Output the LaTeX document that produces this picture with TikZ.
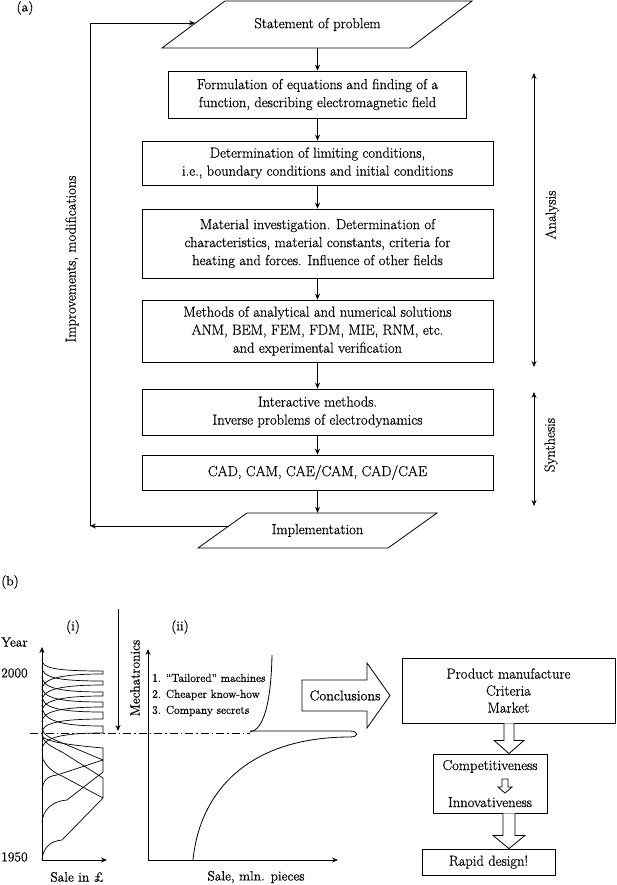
\documentclass[tikz,border=0pt]{standalone}
\usepackage{fontspec}
\setmainfont{Latin Modern Roman}[FakeBold=0.6]
\usetikzlibrary{arrows.meta,calc}
\newcommand\fntA{\fontsize{14.5}{18}\selectfont}
\newcommand\fntB{\fontsize{11.5}{16}\selectfont}
\newcommand\fntC{\fontsize{13.5}{16}\selectfont}
\newcommand\fntD{\fontsize{14.5}{17}\selectfont}
\tikzset{
  box/.style={draw, line width=0.8pt, align=center, inner sep=0pt, font=\fntA},
  lbl/.style={inner sep=0pt, font=\fntA},
  lblb/.style={inner sep=0pt, font=\fntC},
  arr/.style={-{Stealth[length=6pt,width=5pt]}, line width=0.8pt},
  darr/.style={{Stealth[length=6pt,width=5pt]}-{Stealth[length=6pt,width=5pt]}, line width=0.8pt},
  ln/.style={line width=0.8pt},
  cyc/.style={line width=0.7pt},
  hol/.style={draw, line width=0.8pt, fill=white},
}
\begin{document}
\begin{tikzpicture}[x=1pt,y=-1pt]
\useasboundingbox (0,0) rectangle (617,885);
% ---------------- (a) ----------------
\node[lblb] (la) at (25,8) {(a)};
\draw[ln] (225,1) -- (472,1) -- (410,48) -- (162,48) -- cycle;
\node[lbl, minimum height=47pt] (st) at (317.5,24.5) {Statement of problem};
\node[box, minimum width=298pt, minimum height=47pt] (b1) at (317.5,94.5)
  {Formulation of equations and finding of a\\ function, describing electromagnetic field};
\node[box, minimum width=351pt, minimum height=44pt] (b2) at (317.5,163)
  {Determination of limiting conditions,\\ i.e., boundary conditions and initial conditions};
\node[box, minimum width=351pt, minimum height=69pt] (b3) at (317.5,243.5)
  {Material investigation. Determination of\\ characteristics, material constants, criteria for\\ heating and forces. Influence of other fields};
\node[box, minimum width=351pt, minimum height=62pt] (b4) at (317.5,331)
  {Methods of analytical and numerical solutions\\ ANM, BEM, FEM, FDM, MIE, RNM, etc.\\ and experimental verification};
\node[box, minimum width=351pt, minimum height=46pt] (b5) at (317.5,412)
  {Interactive methods.\\ Inverse problems of electrodynamics};
\node[box, minimum width=351pt, minimum height=35pt] (b6) at (317.5,472.5)
  {CAD, CAM, CAE/CAM, CAD/CAE};
\draw[ln] (247,513) -- (437,513) -- (388,548) -- (198,548) -- cycle;
\node[lbl, minimum height=35pt] (im) at (317.5,530.5) {Implementation};
\draw[arr] (st.south) -- (b1.north);
\draw[arr] (b1.south) -- (b2.north);
\draw[arr] (b2.south) -- (b3.north);
\draw[arr] (b3.south) -- (b4.north);
\draw[arr] (b4.south) -- (b5.north);
\draw[arr] (b5.south) -- (b6.north);
\draw[arr] (b6.south) -- (im.north);
% feedback loop
\coordinate (imL) at (229,526);
\coordinate (fbB) at (90,526);
\coordinate (fbT) at (90,23);
\coordinate (stL) at (195,23);
\draw[arr] (imL) -- (fbB);
\draw[arr] (fbB) -- (fbT) -- (stL);
\node[lbl, rotate=90] (imp) at (72,259) {Improvements, modifications};
% analysis / synthesis
\coordinate (anT) at (534,73);
\coordinate (anB) at (534,367);
\coordinate (syT) at (534,392);
\coordinate (syB) at (534,506);
\draw[darr] (anT) -- (anB);
\draw[darr] (syT) -- (syB);
\node[lbl, rotate=90] (an) at (552,215) {Analysis};
\node[lbl, rotate=90] (sy) at (551,445) {Synthesis};
% ---------------- (b) ----------------
\node[lblb] (lb) at (10,582) {(b)};
\node[lblb] (li) at (73,627) {(i)};
\node[lblb] (lii) at (180,627) {(ii)};
\node[lblb, anchor=west] (yr) at (1,642) {Year};
\node[lblb, anchor=west] (y2) at (1,673) {2000};
\node[lblb, anchor=west] (y1) at (1,857) {1950};
% axes (i)
\coordinate (o1) at (42,860);
\coordinate (o1y) at (42,647);
\coordinate (o1x) at (107,860);
\draw[arr] (o1) -- (o1y);
\draw[arr] (o1) -- (o1x);
\node[lblb] (s1) at (77,877) {Sale in £};
% mechatronics arrow
\coordinate (mT) at (118,609);
\coordinate (mB) at (118,731);
\draw[arr] (mT) -- (mB);
\node[lblb, rotate=90] (mech) at (135,678) {Mechatronics};
% dash-dot line
\coordinate (ddL) at (30,733);
\coordinate (ddR) at (250,733);
\draw[line width=0.7pt, dash pattern=on 8pt off 3pt on 1.5pt off 3pt] (ddL) -- (ddR);
% life cycles (i) - upper
\draw[cyc] (42,660) .. controls (42,668) and (55,671) .. (103,671) -- (103,674) .. controls (55,674) and (42,680) .. (42,690);
\draw[cyc] (42,667) .. controls (42,677) and (55,681) .. (103,681) -- (103,685) .. controls (55,685) and (42,691) .. (42,701);
\draw[cyc] (42,676) .. controls (42,687) and (55,692) .. (103,692) -- (103,696) .. controls (55,696) and (42,702) .. (42,712);
\draw[cyc] (42,686) .. controls (42,697) and (55,702) .. (103,702) -- (103,707) .. controls (55,707) and (42,713) .. (42,722);
\draw[cyc] (42,695) .. controls (42,707) and (55,712) .. (103,712) -- (103,719) .. controls (55,719) and (42,724) .. (42,733);
\draw[cyc] (42,705) .. controls (42,719) and (55,726) .. (103,726) -- (103,733) .. controls (60,733) and (42,738) .. (42,750);
% life cycles (i) - lower
\draw[cyc] (42,860) .. controls (43,848) and (50,841) .. (62,840) -- (103,798) -- (103,778) -- (62,752) .. controls (50,746) and (43,742) .. (42,735);
\draw[cyc] (42,822) .. controls (43,810) and (52,801) .. (67,800) -- (103,772) -- (103,760) -- (60,742) .. controls (50,738) and (43,735) .. (42,728);
\draw[cyc] (42,790) .. controls (43,780) and (48,776) .. (57,775) -- (103,760) -- (103,748) .. controls (70,745) and (46,742) .. (42,736);
\draw[cyc] (42,757) .. controls (45,765) and (52,772) .. (62,776) -- (103,798);
% axes (ii)
\coordinate (o2) at (148,860);
\coordinate (o2y) at (148,649);
\coordinate (o2x) at (338,860);
\draw[arr] (o2) -- (o2y);
\draw[arr] (o2) -- (o2x);
\node[lblb] (s2) at (256,877) {Sale, mln. pieces};
\node[inner sep=0pt, font=\fntB, align=left, anchor=west] (items) at (152,695)
  {1. “Tailored” machines\\ 2. Cheaper know-how\\ 3. Company secrets};
\draw[cyc, line width=0.8pt] (193,860) .. controls (200,790) and (250,737) .. (350,737)
  .. controls (359,737) and (359,731) .. (350,731) -- (250,731);
\draw[cyc, line width=0.8pt] (250,732) .. controls (263,730) and (271,705) .. (272,655);
% conclusions arrow
\draw[hol] (302,680) -- (367,680) -- (367,663) -- (390,695.5) -- (367,728) -- (367,711) -- (302,711) -- cycle;
\node[inner sep=0pt, font=\fontsize{14}{16}\selectfont] (concl) at (345,695.5) {Conclusions};
% right boxes
\node[box, font=\fntD, minimum width=213pt, minimum height=65pt] (pm) at (508.5,690.5)
  {Product manufacture\\ Criteria\\ Market};
\node[box, font=\fntD, minimum width=114pt, minimum height=59pt] (cp) at (490,783.5)
  {Competitiveness\\[20pt] Innovativeness};
\node[box, font=\fntD, minimum width=133pt, minimum height=26pt] (rd) at (488.5,862) {Rapid design!};
% hollow arrows
\draw[hol] ($(pm.south)+(-4.5,0)$) -- ++(0,17) -- ++(-10,0) -- ($(cp.north)+(19,0)$) -- ($(pm.south)+(15.5,17)$) -- ++(-10,0) -- ($(pm.south)+(5.5,0)$);
\draw[hol] ($(cp.south)+(13,0)$) -- ++(0,22) -- ++(-10,0) -- ($(rd.north)+(20.5,0)$) -- ($(cp.south)+(35,22)$) -- ++(-10,0) -- ($(cp.south)+(25,0)$);
\draw[hol] (502,779) -- (502,787) -- (498,787) -- (505,793) -- (512,787) -- (508,787) -- (508,779) -- cycle;
\end{tikzpicture}
\end{document}
